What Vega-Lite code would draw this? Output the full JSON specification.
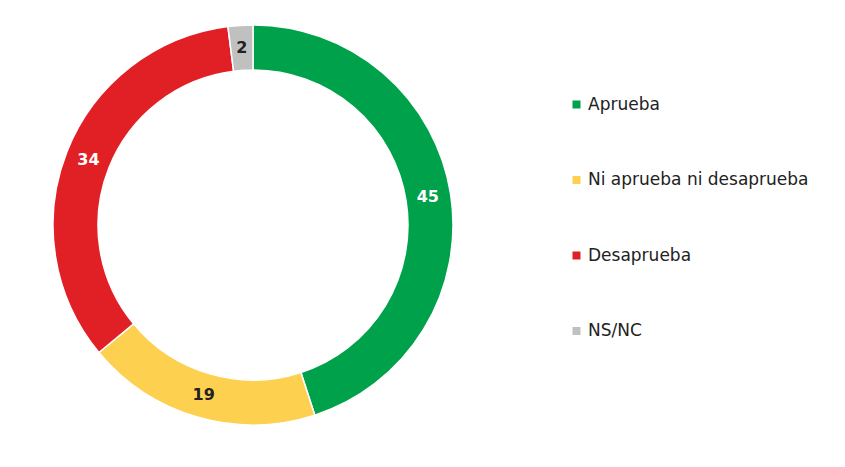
{
  "$schema": "https://vega.github.io/schema/vega-lite/v6.json",
  "width": 506,
  "height": 450,
  "padding": 0,
  "autosize": {"type": "pad"},
  "background": "white",
  "config": {"view": {"stroke": null}, "font": "DejaVu Sans"},
  "data": {
    "values": [
      {"categoria": "Aprueba", "valor": 45, "orden": 1},
      {"categoria": "Ni aprueba ni desaprueba", "valor": 19, "orden": 2},
      {"categoria": "Desaprueba", "valor": 34, "orden": 3},
      {"categoria": "NS/NC", "valor": 2, "orden": 4}
    ]
  },
  "encoding": {
    "theta": {"field": "valor", "type": "quantitative", "stack": true},
    "order": {"field": "orden", "type": "quantitative"}
  },
  "layer": [
    {
      "mark": {"type": "arc", "outerRadius": 200, "innerRadius": 155, "stroke": "white", "strokeWidth": 1.5},
      "encoding": {
        "color": {
          "field": "categoria",
          "type": "nominal",
          "sort": ["Aprueba", "Ni aprueba ni desaprueba", "Desaprueba", "NS/NC"],
          "scale": {
            "domain": ["Aprueba", "Ni aprueba ni desaprueba", "Desaprueba", "NS/NC"],
            "range": ["#00A14B", "#FDD04F", "#E12026", "#C0C0C0"]
          },
          "legend": {
            "title": null,
            "orient": "none",
            "legendX": 568,
            "legendY": 96,
            "symbolType": "square",
            "symbolSize": 64,
            "symbolStrokeWidth": 0,
            "labelFontSize": 17,
            "labelColor": "#222222",
            "labelFont": "DejaVu Sans",
            "labelOffset": 3,
            "rowPadding": 57.5,
            "labelLimit": 400
          }
        }
      }
    },
    {
      "mark": {"type": "text", "radius": 177, "fontSize": 16, "fontWeight": "bold", "font": "DejaVu Sans"},
      "encoding": {
        "text": {"field": "valor", "type": "quantitative"},
        "color": {
          "condition": {"test": "datum.categoria === 'Aprueba' || datum.categoria === 'Desaprueba'", "value": "white"},
          "value": "#222222"
        }
      }
    }
  ]
}
